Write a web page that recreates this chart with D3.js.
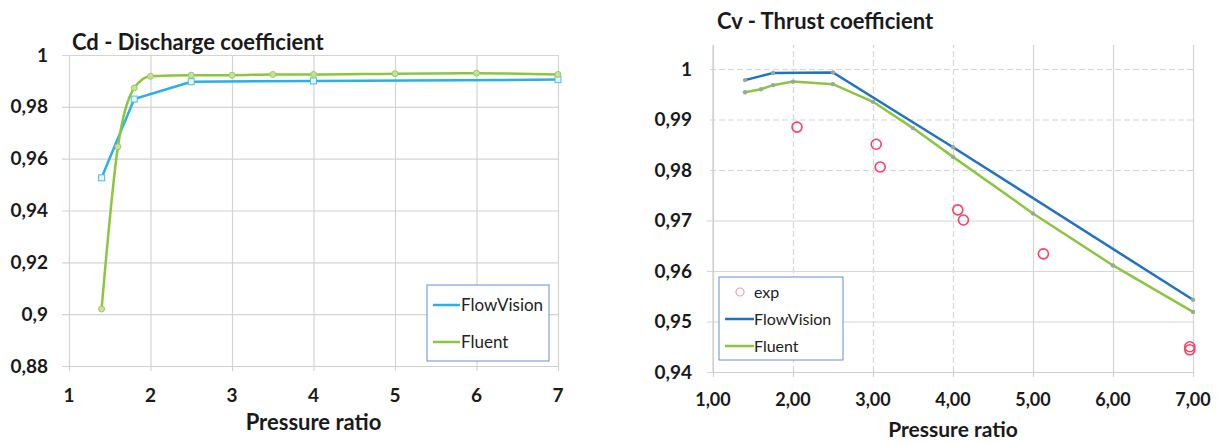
<!DOCTYPE html>
<html>
<head>
<meta charset="utf-8">
<script src="https://cdn.jsdelivr.net/npm/d3@7"></script>
<style>
  body { margin: 0; background: #fff; }
  svg { font-family: Lato, "Open Sans", sans-serif; }
  .lbl { font-weight: 700; fill: #1a1a1a; }
</style>
</head>
<body>
<svg id="chart" width="1226" height="443"></svg>
<script>
// Cd - discharge coefficient
const cdFlowVisionX = [1.4, 1.8, 2.5, 4, 7];
const cdFlowVisionY = [0.9526, 0.983, 0.9897, 0.9900, 0.9905];
const cdFluentX = [1.4, 1.6, 1.8, 2, 2.5, 3, 3.5, 4, 5, 6, 7];
const cdFluentY = [0.902, 0.9646, 0.9873, 0.9918, 0.9922, 0.9922, 0.9925, 0.9925, 0.9928, 0.993, 0.9925];
const cdXTicks = [1, 2, 3, 4, 5, 6, 7];
const cdYTicks = [0.88, 0.9, 0.92, 0.94, 0.96, 0.98, 1];

// Cv - thrust coefficient
const cvFlowVisionX = [1.4, 1.75, 2.5, 4, 7];
const cvFlowVisionY = [0.9978, 0.9992, 0.9993, 0.9845, 0.9543];
const cvFluentX = [1.4, 1.6, 1.75, 2, 2.5, 3, 3.5, 4, 5, 6, 7];
const cvFluentY = [0.9954, 0.996, 0.9968, 0.9975, 0.997, 0.9935, 0.9883, 0.9826, 0.9714, 0.9611, 0.9519];
const cvExpX = [2.05, 3.04, 3.09, 4.06, 4.13, 5.13, 6.96, 6.96];
const cvExpY = [0.9885, 0.9851, 0.9806, 0.9721, 0.9701, 0.9634, 0.945, 0.9444];
const cvXTicks = [1, 2, 3, 4, 5, 6, 7];
const cvYTicks = [0.94, 0.95, 0.96, 0.97, 0.98, 0.99, 1];

const svg = d3.select('#chart');
const comma = d => (d === 1 ? '1' : d3.format('.2~f')(d).replace('.', ','));

function zip(xs, ys) { return xs.map((x, i) => ({ x: x, y: ys[i] })); }

/**
 * Left panel
 */
(function () {
  const x = d3.scaleLinear().domain([1, 7]).range([69, 558]);
  const y = d3.scaleLinear().domain([0.88, 1]).range([366, 55]);
  const g = svg.append('g');

  g.append('g')
    .attr('transform', 'translate(' + x(7) + ',0)')
    .call(d3.axisLeft(y).tickValues(cdYTicks).tickSize(x(7) - x(1) + 7).tickFormat(''))
    .call(a => a.select('.domain').remove())
    .call(a => a.selectAll('.tick line').attr('stroke', '#d4d4d4').attr('stroke-width', 1.2));

  g.append('g')
    .attr('transform', 'translate(0,' + y(0.88) + ')')
    .call(d3.axisBottom(x).tickValues(cdXTicks).tickSize(-(y(0.88) - y(1))).tickFormat(''))
    .call(a => a.select('.domain').remove())
    .call(a => a.selectAll('.tick line').attr('stroke', '#d4d4d4').attr('stroke-width', 1.2));

  g.append('g')
    .attr('transform', 'translate(0,' + y(0.88) + ')')
    .call(d3.axisBottom(x).tickValues(cdXTicks).tickSize(5).tickFormat(''))
    .call(a => a.select('.domain').attr('stroke', '#cfcfcf'))
    .call(a => a.selectAll('.tick line').attr('stroke', '#cfcfcf'));

  g.selectAll('.ylab').data(cdYTicks).enter().append('text')
    .attr('class', 'lbl').attr('x', 48).attr('y', d => y(d)).attr('dy', '0.35em')
    .attr('text-anchor', 'end').attr('font-size', 19).text(comma);
  g.selectAll('.xlab').data(cdXTicks).enter().append('text')
    .attr('class', 'lbl').attr('x', d => x(d)).attr('y', 395).attr('dy', '0.35em')
    .attr('text-anchor', 'middle').attr('font-size', 19).text(d => d);

  g.append('text').attr('class', 'lbl').attr('x', 72).attr('y', 50)
    .attr('font-size', 22).text('Cd - Discharge coefficient');
  g.append('text').attr('class', 'lbl').attr('x', x(4)).attr('y', 430)
    .attr('text-anchor', 'middle').attr('font-size', 22).text('Pressure ratio');

  const line = d3.line().x(d => x(d.x)).y(d => y(d.y));
  const fv = zip(cdFlowVisionX, cdFlowVisionY);
  const fl = zip(cdFluentX, cdFluentY);

  g.append('path').datum(fv).attr('fill', 'none').attr('stroke', '#27b1e8')
    .attr('stroke-width', 2.5).attr('d', line);
  g.append('path').datum(fl).attr('fill', 'none').attr('stroke', '#8cc63f')
    .attr('stroke-width', 2.5).attr('d', line.curve(d3.curveMonotoneX));

  g.selectAll('.sq').data(fv).enter().append('rect')
    .attr('x', d => x(d.x) - 3).attr('y', d => y(d.y) - 3)
    .attr('width', 6).attr('height', 6)
    .attr('fill', '#e3f4fb').attr('stroke', '#4dbbe8').attr('stroke-width', 1);
  g.selectAll('.ci').data(fl).enter().append('circle')
    .attr('cx', d => x(d.x)).attr('cy', d => y(d.y)).attr('r', 3)
    .attr('fill', '#c9df9f').attr('stroke', '#9ccb5a').attr('stroke-width', 1);

  // legend
  const lg = g.append('g');
  lg.append('rect').attr('x', 427).attr('y', 285).attr('width', 122).attr('height', 76)
    .attr('fill', '#fff').attr('stroke', '#6a8ccc').attr('stroke-width', 1);
  [['FlowVision', '#27b1e8', 305], ['Fluent', '#8cc63f', 342]].forEach(([t, c, yy]) => {
    lg.append('line').attr('x1', 433).attr('x2', 460).attr('y1', yy).attr('y2', yy)
      .attr('stroke', c).attr('stroke-width', 2.5);
    lg.append('text').attr('x', 461).attr('y', yy).attr('dy', '0.35em')
      .attr('font-size', 17).attr('fill', '#222').text(t);
  });
})();

/**
 * Right panel
 */
(function () {
  const x = d3.scaleLinear().domain([1, 7]).range([713, 1193]);
  const y = d3.scaleLinear().domain([0.94, 1]).range([372, 69]);
  const top = 45;
  const g = svg.append('g');

  g.append('g')
    .attr('transform', 'translate(' + x(7) + ',0)')
    .call(d3.axisLeft(y).tickValues(cvYTicks).tickSize(x(7) - x(1) + 6).tickFormat(''))
    .call(a => a.select('.domain').remove())
    .call(a => a.selectAll('.tick line').attr('stroke', '#d6d6d6').attr('stroke-width', 1.2)
      .attr('stroke-dasharray', d => d >= 0.98 ? '6,3' : null));

  g.append('g')
    .attr('transform', 'translate(0,' + y(0.94) + ')')
    .call(d3.axisBottom(x).tickValues(cvXTicks).tickSize(-(y(0.94) - top)).tickFormat(''))
    .call(a => a.select('.domain').remove())
    .call(a => a.selectAll('.tick line').attr('stroke', '#d6d6d6').attr('stroke-width', 1.2)
      .attr('stroke-dasharray', d => d > 1 && d < 5 ? '6,3' : null));

  g.append('g')
    .attr('transform', 'translate(0,' + y(0.94) + ')')
    .call(d3.axisBottom(x).tickValues(cvXTicks).tickSize(5).tickFormat(''))
    .call(a => a.select('.domain').attr('stroke', '#cfcfcf'))
    .call(a => a.selectAll('.tick line').attr('stroke', '#cfcfcf'));
  g.append('line').attr('x1', x(1)).attr('x2', x(1)).attr('y1', top).attr('y2', y(0.94))
    .attr('stroke', '#cfcfcf').attr('stroke-width', 1.2);

  g.selectAll('.ylab').data(cvYTicks).enter().append('text')
    .attr('class', 'lbl').attr('x', 692).attr('y', d => y(d)).attr('dy', '0.35em')
    .attr('text-anchor', 'end').attr('font-size', 19).text(comma);
  g.selectAll('.xlab').data(cvXTicks).enter().append('text')
    .attr('class', 'lbl').attr('x', d => x(d)).attr('y', 400).attr('dy', '0.35em')
    .attr('text-anchor', 'middle').attr('font-size', 18).text(d => d3.format('.2f')(d).replace('.', ','));

  g.append('text').attr('class', 'lbl').attr('x', 717).attr('y', 29)
    .attr('font-size', 22).text('Cv - Thrust coefficient');
  g.append('text').attr('class', 'lbl').attr('x', x(4)).attr('y', 437)
    .attr('text-anchor', 'middle').attr('font-size', 21).text('Pressure ratio');

  const line = d3.line().x(d => x(d.x)).y(d => y(d.y));
  const fv = zip(cvFlowVisionX, cvFlowVisionY);
  const fl = zip(cvFluentX, cvFluentY);
  const ex = zip(cvExpX, cvExpY);

  g.append('path').datum(fv).attr('fill', 'none').attr('stroke', '#1f72c4')
    .attr('stroke-width', 2.5).attr('d', line);
  g.append('path').datum(fl).attr('fill', 'none').attr('stroke', '#8cc63f')
    .attr('stroke-width', 2.5).attr('d', line);
  g.selectAll('.m1').data(fv.concat(fl)).enter().append('circle')
    .attr('cx', d => x(d.x)).attr('cy', d => y(d.y)).attr('r', 2.2)
    .attr('fill', '#9aa79a');
  g.selectAll('.ex').data(ex).enter().append('circle')
    .attr('cx', d => x(d.x)).attr('cy', d => y(d.y)).attr('r', 5)
    .attr('fill', 'none').attr('stroke', '#ff3d64').attr('stroke-width', 1.6);

  // legend
  const lg = g.append('g');
  lg.append('rect').attr('x', 719).attr('y', 277).attr('width', 124).attr('height', 83)
    .attr('fill', '#fff').attr('stroke', '#6a8ccc').attr('stroke-width', 1);
  lg.append('circle').attr('cx', 740).attr('cy', 292).attr('r', 4)
    .attr('fill', 'none').attr('stroke', '#f29aa8').attr('stroke-width', 1.2);
  lg.append('text').attr('x', 754).attr('y', 292).attr('dy', '0.35em')
    .attr('font-size', 16).attr('fill', '#222').text('exp');
  [['FlowVision', '#1f72c4', 319], ['Fluent', '#8cc63f', 346]].forEach(([t, c, yy]) => {
    lg.append('line').attr('x1', 725).attr('x2', 754).attr('y1', yy).attr('y2', yy)
      .attr('stroke', c).attr('stroke-width', 2.5);
    lg.append('text').attr('x', 754).attr('y', yy).attr('dy', '0.35em')
      .attr('font-size', 16).attr('fill', '#222').text(t);
  });
})();
</script>
</body>
</html>
